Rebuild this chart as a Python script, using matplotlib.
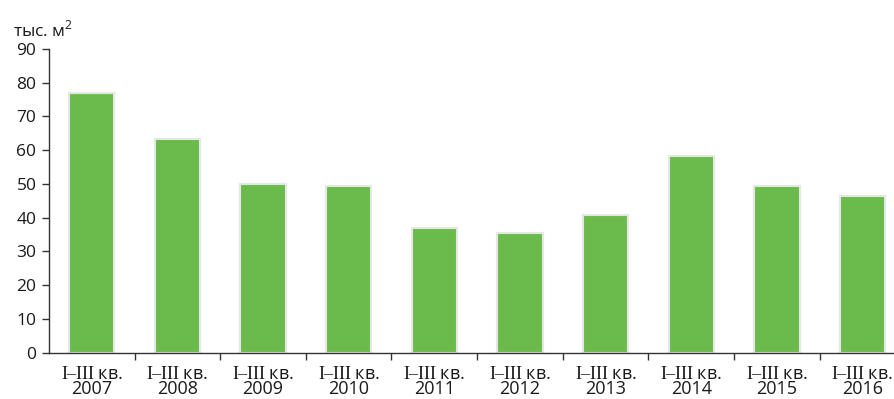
import matplotlib
matplotlib.use('Agg')
import matplotlib.pyplot as plt
import numpy as np

years = ['2007', '2008', '2009', '2010', '2011', '2012', '2013', '2014', '2015', '2016']
values = [77.0, 63.4, 50.0, 49.4, 36.8, 35.4, 40.8, 58.3, 49.4, 46.4]
period = 'I–III'
unit = 'тыс. м$^\\mathsf{2}$'

plt.rcParams['font.family'] = ['Open Sans', 'DejaVu Sans']
plt.rcParams['mathtext.fontset'] = 'custom'
plt.rcParams['mathtext.rm'] = 'Liberation Serif'
plt.rcParams['mathtext.sf'] = 'Open Sans'

fig = plt.figure(figsize=(8.95, 3.99), dpi=100)
ax = fig.add_axes([0.0547, 0.1165, 1 - 0.0547, 0.7607])

x = np.arange(len(years))
ax.bar(x, values, width=0.53, color='#6BBB4C', edgecolor='#E6E6E6', linewidth=1.5)

ax.set_ylim(0, 90)
ax.set_yticks(np.arange(0, 91, 10))
ax.set_xlim(-0.5, 9.38)

labels = ['$\\mathrm{' + period + '}$ кв.\n' + y for y in years]
ax.set_xticks(x)
ax.set_xticklabels(labels, linespacing=0.82)
ax.set_xticks(np.arange(0.5, 9, 1), minor=True)
ax.tick_params(axis='x', which='major', length=0, pad=9, labelsize=13, colors='#1a1a1a')
ax.tick_params(axis='x', which='minor', length=5, width=1, direction='out', color='#333333')
ax.tick_params(axis='y', length=5, width=1, direction='out', labelsize=12.5, colors='#1a1a1a', pad=4)
ax.tick_params(axis='y', color='#333333')

for side in ['top', 'right']:
    ax.spines[side].set_visible(False)
for side in ['left', 'bottom']:
    ax.spines[side].set_color('#333333')
    ax.spines[side].set_linewidth(1)

fig.text(13 / 895, 1 - 30 / 399, unit, fontsize=12.5, color='#1a1a1a', va='center', ha='left')

fig.savefig('out.png', dpi=100)
